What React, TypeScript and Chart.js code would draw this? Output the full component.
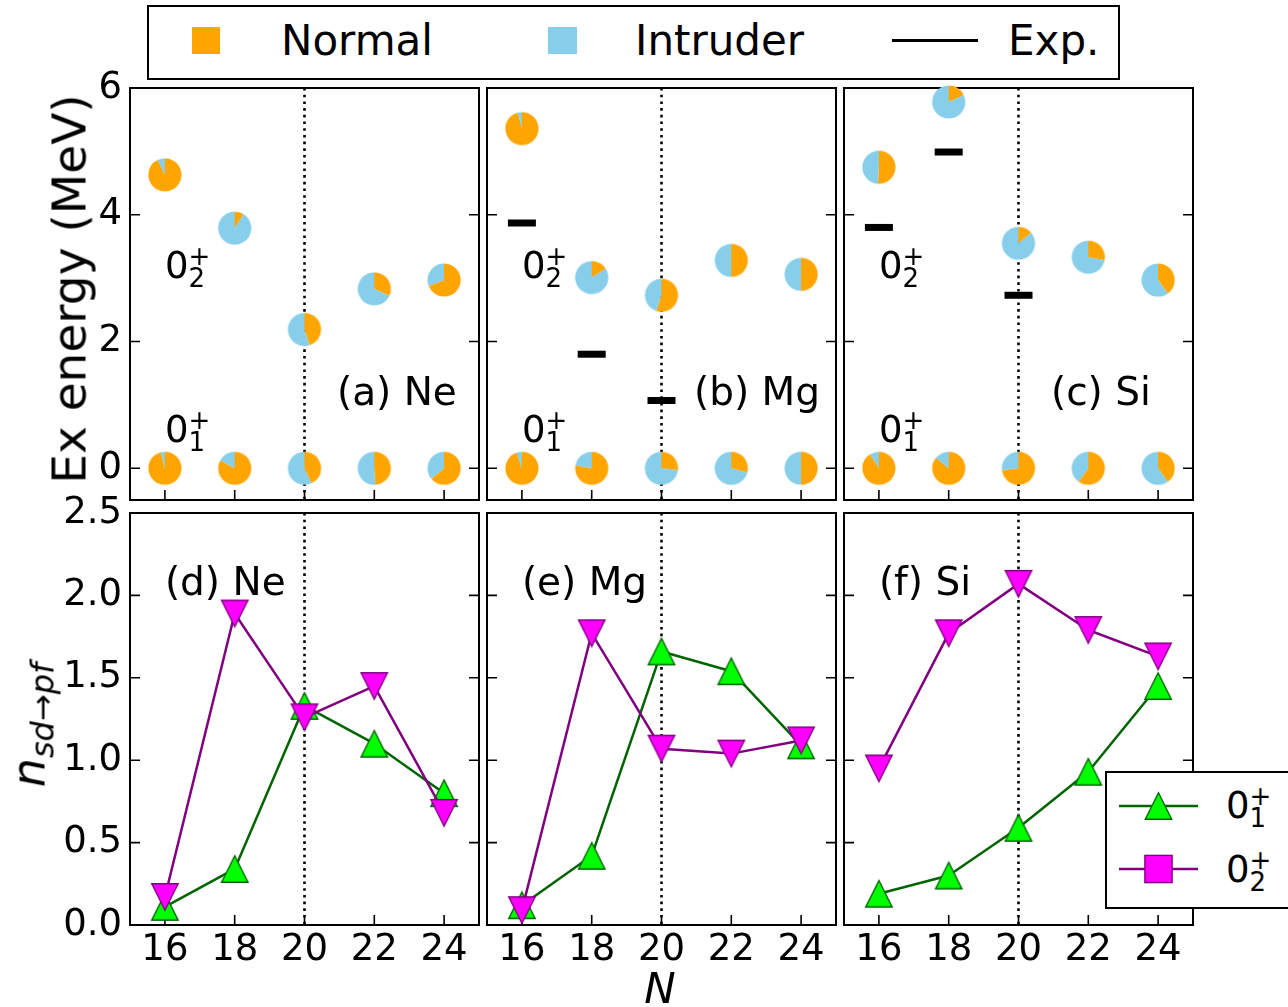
import React, { useEffect, useRef } from 'react';
import { Chart, registerables } from 'chart.js';

Chart.register(...registerables);

const FONT = '"DejaVu Sans"';
const ORANGE = '#ffa500';
const SKY = '#87ceeb';
const GREEN_LINE = '#006400';
const GREEN_FACE = '#00ff00';
const PURPLE_LINE = '#800080';
const MAGENTA_FACE = '#ff00ff';

// Neutron numbers and axis ticks
const neutronN = [16, 18, 20, 22, 24];
const nTicks = [16, 18, 20, 22, 24];
const exTicks = [0, 2, 4, 6];
const occTicks = [0, 0.5, 1, 1.5, 2, 2.5];

// Excitation energies of the 0+_2 states (MeV); 0+_1 is the ground state
const neEx02 = [4.63, 3.79, 2.19, 2.83, 2.97];
const mgEx02 = [5.36, 3.01, 2.73, 3.28, 3.06];
const siEx02 = [4.75, 5.78, 3.55, 3.33, 2.97];
const groundEx = [0, 0, 0, 0, 0];

// Fraction of the normal configuration (the rest is intruder)
const neNormal01 = [0.96, 0.83, 0.43, 0.49, 0.64];
const neNormal02 = [0.93, 0.09, 0.45, 0.32, 0.69];
const mgNormal01 = [0.95, 0.78, 0.27, 0.29, 0.5];
const mgNormal02 = [0.96, 0.16, 0.55, 0.5, 0.5];
const siNormal01 = [0.91, 0.86, 0.73, 0.6, 0.4];
const siNormal02 = [0.51, 0.18, 0.14, 0.28, 0.4];

// Experimental 0+_2 energies (MeV)
const mgExpN = [16, 18, 20];
const mgExpEx = [3.87, 1.8, 1.07];
const siExpN = [16, 18, 20];
const siExpEx = [3.8, 4.99, 2.73];

// Number of nucleons excited from sd to pf shell
const neOcc01 = [0.11, 0.34, 1.33, 1.1, 0.8];
const neOcc02 = [0.17, 1.89, 1.26, 1.45, 0.68];
const mgOcc01 = [0.12, 0.42, 1.66, 1.54, 1.09];
const mgOcc02 = [0.09, 1.77, 1.07, 1.04, 1.12];
const siOcc01 = [0.19, 0.3, 0.59, 0.93, 1.45];
const siOcc02 = [0.95, 1.77, 2.07, 1.79, 1.63];

// Figure geometry
const COL_LEFT = [130, 487, 844];
const ROW_TOP = [88, 513];
const PANEL_W = 349;
const PANEL_H = 412;

type EnergyCfg = {
  kind: 'energy';
  col: number;
  tag: string;
  ex02: number[];
  normal01: number[];
  normal02: number[];
  expN: number[];
  expEx: number[];
};
type OccCfg = {
  kind: 'occ';
  col: number;
  tag: string;
  occ01: number[];
  occ02: number[];
};
type PanelCfg = EnergyCfg | OccCfg;

const panels: PanelCfg[] = [
  { kind: 'energy', col: 0, tag: '(a) Ne', ex02: neEx02, normal01: neNormal01, normal02: neNormal02, expN: [], expEx: [] },
  { kind: 'energy', col: 1, tag: '(b) Mg', ex02: mgEx02, normal01: mgNormal01, normal02: mgNormal02, expN: mgExpN, expEx: mgExpEx },
  { kind: 'energy', col: 2, tag: '(c) Si', ex02: siEx02, normal01: siNormal01, normal02: siNormal02, expN: siExpN, expEx: siExpEx },
  { kind: 'occ', col: 0, tag: '(d) Ne', occ01: neOcc01, occ02: neOcc02 },
  { kind: 'occ', col: 1, tag: '(e) Mg', occ01: mgOcc01, occ02: mgOcc02 },
  { kind: 'occ', col: 2, tag: '(f) Si', occ01: siOcc01, occ02: siOcc02 },
];

function pieImage(frac: number): HTMLCanvasElement {
  const c = document.createElement('canvas');
  c.width = 36;
  c.height = 36;
  const g = c.getContext('2d')!;
  const r = 16.6;
  const start = -Math.PI / 2;
  const mid = start + frac * 2 * Math.PI;
  g.fillStyle = ORANGE;
  g.beginPath();
  g.moveTo(18, 18);
  g.arc(18, 18, r, start, mid);
  g.closePath();
  g.fill();
  g.fillStyle = SKY;
  g.beginPath();
  g.moveTo(18, 18);
  g.arc(18, 18, r, mid, start + 2 * Math.PI);
  g.closePath();
  g.fill();
  return c;
}

function markerImage(down: boolean, face: string, edge: string): HTMLCanvasElement {
  const c = document.createElement('canvas');
  c.width = 32;
  c.height = 32;
  const g = c.getContext('2d')!;
  const m = 16;
  const h = 13.2;
  g.beginPath();
  if (down) {
    g.moveTo(m, m + h);
    g.lineTo(m - h, m - h);
    g.lineTo(m + h, m - h);
  } else {
    g.moveTo(m, m - h);
    g.lineTo(m + h, m + h);
    g.lineTo(m - h, m + h);
  }
  g.closePath();
  g.fillStyle = face;
  g.fill();
  g.lineWidth = 1.4;
  g.strokeStyle = edge;
  g.stroke();
  return c;
}

function drawState(ctx: CanvasRenderingContext2D, x: number, y: number, sub: string) {
  ctx.font = `37px ${FONT}`;
  ctx.fillText('0', x, y);
  ctx.font = `26px ${FONT}`;
  ctx.fillText('+', x + 23.5, y - 13);
  ctx.fillText(sub, x + 23.5, y + 9);
}

function geometry(cfg: PanelCfg) {
  const row = cfg.kind === 'energy' ? 0 : 1;
  const padL = cfg.col === 0 ? 80 : 10;
  const padR = 10;
  const padT = row === 0 ? 30 : 25;
  const padB = row === 0 ? 25 : 60;
  return {
    row,
    padL,
    padR,
    padT,
    padB,
    left: COL_LEFT[cfg.col] - padL,
    top: ROW_TOP[row] - padT,
    width: padL + PANEL_W + padR,
    height: padT + PANEL_H + padB,
  };
}

function buildConfig(cfg: PanelCfg): any {
  const geo = geometry(cfg);
  const yTicks = cfg.kind === 'energy' ? exTicks : occTicks;
  const tickFont = { family: 'DejaVu Sans', size: 37 };
  const showX = geo.row === 1;
  const showY = cfg.col === 0;

  const decor = {
    id: 'panelDecor',
    beforeDatasetsDraw(chart: any) {
      const { ctx, chartArea: a } = chart;
      const xs = chart.scales.x;
      const ys = chart.scales.y;
      ctx.save();
      // dotted guide at N = 20
      const gx = xs.getPixelForValue(20);
      ctx.strokeStyle = '#000';
      ctx.lineWidth = 2.6;
      ctx.setLineDash([2.6, 4.1]);
      ctx.beginPath();
      ctx.moveTo(gx, a.top);
      ctx.lineTo(gx, a.bottom);
      ctx.stroke();
      ctx.setLineDash([]);
      // inward ticks
      ctx.lineWidth = 1.6;
      ctx.beginPath();
      for (const v of yTicks) {
        const py = ys.getPixelForValue(v);
        ctx.moveTo(a.left, py);
        ctx.lineTo(a.left + 10, py);
        ctx.moveTo(a.right, py);
        ctx.lineTo(a.right - 10, py);
      }
      for (const v of nTicks) {
        const px = xs.getPixelForValue(v);
        ctx.moveTo(px, a.bottom);
        ctx.lineTo(px, a.bottom - 10);
      }
      ctx.stroke();
      // frame
      ctx.lineWidth = 2;
      ctx.strokeRect(a.left, a.top, a.right - a.left, a.bottom - a.top);
      // annotations
      ctx.fillStyle = '#000';
      ctx.textAlign = 'left';
      ctx.textBaseline = 'alphabetic';
      if (cfg.kind === 'energy') {
        drawState(ctx, xs.getPixelForValue(16), ys.getPixelForValue(3.0), '2');
        drawState(ctx, xs.getPixelForValue(16), ys.getPixelForValue(0.42), '1');
        ctx.font = `39px ${FONT}`;
        ctx.fillText(cfg.tag, xs.getPixelForValue(20.93), ys.getPixelForValue(1.0));
      } else {
        ctx.font = `39px ${FONT}`;
        ctx.fillText(cfg.tag, xs.getPixelForValue(16), ys.getPixelForValue(2.0));
      }
      ctx.restore();
    },
  };

  let datasets: any[];
  if (cfg.kind === 'energy') {
    datasets = [
      {
        label: 'Exp.',
        data: cfg.expN.map((n, i) => ({ x: n, y: cfg.expEx[i] })),
        pointStyle: 'line',
        pointRadius: 14,
        pointBorderWidth: 7,
        pointBorderColor: '#000',
        pointBackgroundColor: '#000',
        showLine: false,
        clip: false,
      },
      {
        label: '0+1',
        data: neutronN.map((n, i) => ({ x: n, y: groundEx[i] })),
        pointStyle: cfg.normal01.map(pieImage),
        pointRadius: 16,
        showLine: false,
        clip: false,
      },
      {
        label: '0+2',
        data: neutronN.map((n, i) => ({ x: n, y: cfg.ex02[i] })),
        pointStyle: cfg.normal02.map(pieImage),
        pointRadius: 16,
        showLine: false,
        clip: false,
      },
    ];
  } else {
    datasets = [
      {
        label: '0+1',
        data: neutronN.map((n, i) => ({ x: n, y: cfg.occ01[i] })),
        showLine: true,
        borderColor: GREEN_LINE,
        borderWidth: 2.5,
        borderJoinStyle: 'round',
        pointStyle: markerImage(false, GREEN_FACE, GREEN_LINE),
        pointRadius: 14,
        order: 1,
        clip: false,
      },
      {
        label: '0+2',
        data: neutronN.map((n, i) => ({ x: n, y: cfg.occ02[i] })),
        showLine: true,
        borderColor: PURPLE_LINE,
        borderWidth: 2.5,
        borderJoinStyle: 'round',
        pointStyle: markerImage(true, MAGENTA_FACE, PURPLE_LINE),
        pointRadius: 14,
        order: 0,
        clip: false,
      },
    ];
  }

  return {
    type: 'scatter',
    data: { datasets },
    plugins: [decor],
    options: {
      animation: false,
      responsive: false,
      events: [],
      devicePixelRatio: 1,
      layout: {
        autoPadding: false,
        padding: {
          left: showY ? 0 : geo.padL,
          right: geo.padR,
          top: geo.padT,
          bottom: showX ? 0 : geo.padB,
        },
      },
      plugins: { legend: { display: false }, tooltip: { enabled: false } },
      scales: {
        x: {
          type: 'linear',
          min: 15,
          max: 25,
          display: showX,
          grid: { display: false, drawTicks: false },
          border: { display: false },
          afterBuildTicks: (s: any) => {
            s.ticks = nTicks.map((v) => ({ value: v }));
          },
          afterFit: (s: any) => {
            s.height = showX ? geo.padB : 0;
            s.paddingLeft = 0;
            s.paddingRight = 0;
          },
          ticks: {
            font: tickFont,
            color: '#000',
            padding: 3,
            maxRotation: 0,
            autoSkip: false,
            callback: (v: number) => String(v),
          },
        },
        y: {
          type: 'linear',
          min: cfg.kind === 'energy' ? -0.5 : 0,
          max: cfg.kind === 'energy' ? 6 : 2.5,
          display: showY,
          grid: { display: false, drawTicks: false },
          border: { display: false },
          afterBuildTicks: (s: any) => {
            s.ticks = yTicks.map((v) => ({ value: v }));
          },
          afterFit: (s: any) => {
            s.width = showY ? geo.padL : 0;
            s.paddingTop = 0;
            s.paddingBottom = 0;
          },
          ticks: {
            font: tickFont,
            color: '#000',
            padding: 8,
            autoSkip: false,
            callback: (v: number) => (cfg.kind === 'energy' ? String(v) : v.toFixed(1)),
          },
        },
      },
    },
  };
}

function Panel({ cfg }: { cfg: PanelCfg }) {
  const ref = useRef<HTMLCanvasElement>(null);
  const geo = geometry(cfg);
  useEffect(() => {
    const chart = new Chart(ref.current!, buildConfig(cfg));
    return () => chart.destroy();
  }, []);
  return (
    <canvas
      ref={ref}
      width={geo.width}
      height={geo.height}
      style={{ position: 'absolute', left: geo.left, top: geo.top, width: geo.width, height: geo.height }}
    />
  );
}

// Places text so that its alphabetic baseline sits at `base`
function Txt({ x, base, size, italic, children }: { x: number; base: number; size: number; italic?: boolean; children: React.ReactNode }) {
  return (
    <span
      style={{
        position: 'absolute',
        left: x,
        top: base - 0.846 * size,
        fontSize: size,
        lineHeight: `${size}px`,
        fontFamily: FONT,
        fontStyle: italic ? 'italic' : 'normal',
        whiteSpace: 'nowrap',
        color: '#000',
      }}
    >
      {children}
    </span>
  );
}

function StateText({ x, base, sub }: { x: number; base: number; sub: string }) {
  return (
    <>
      <Txt x={x} base={base} size={37}>0</Txt>
      <Txt x={x + 23.5} base={base - 13} size={26}>+</Txt>
      <Txt x={x + 23.5} base={base + 9} size={26}>{sub}</Txt>
    </>
  );
}

function triPoints(cx: number, cy: number, h: number) {
  return `${cx},${cy - h} ${cx + h},${cy + h} ${cx - h},${cy + h}`;
}

export default function App() {
  return (
    <div
      style={{
        position: 'absolute',
        left: 0,
        top: 0,
        width: 1288,
        height: 1007,
        overflow: 'hidden',
        background: '#fff',
        fontFamily: FONT,
      }}
    >
      {panels.map((p, i) => (
        <Panel key={i} cfg={p} />
      ))}

      {/* figure legend */}
      <div
        style={{
          position: 'absolute',
          left: 147,
          top: 5,
          width: 973,
          height: 75,
          border: '2px solid #000',
          boxSizing: 'border-box',
          background: '#fff',
        }}
      />
      <div style={{ position: 'absolute', left: 192, top: 27, width: 28, height: 27, background: ORANGE }} />
      <Txt x={281} base={56} size={42}>Normal</Txt>
      <div style={{ position: 'absolute', left: 548, top: 27, width: 29, height: 27, background: SKY }} />
      <Txt x={635} base={56} size={42}>Intruder</Txt>
      <div style={{ position: 'absolute', left: 892, top: 39, width: 86, height: 3, background: '#000' }} />
      <Txt x={1008} base={56} size={42}>Exp.</Txt>

      {/* axis titles */}
      <div
        style={{
          position: 'absolute',
          left: 69,
          top: 289,
          transform: 'translate(-50%, -50%) rotate(-90deg)',
          fontSize: 47,
          lineHeight: '47px',
          fontFamily: FONT,
          whiteSpace: 'nowrap',
        }}
      >
        Ex energy (MeV)
      </div>
      <div
        style={{
          position: 'absolute',
          left: 31,
          top: 725,
          transform: 'translate(-50%, -50%) rotate(-90deg)',
          fontSize: 46,
          lineHeight: '46px',
          fontFamily: FONT,
          whiteSpace: 'nowrap',
        }}
      >
        <span style={{ fontStyle: 'italic' }}>n</span>
        <span style={{ fontSize: 32, position: 'relative', top: 9 }}>
          <span style={{ fontStyle: 'italic' }}>sd</span>→<span style={{ fontStyle: 'italic' }}>pf</span>
        </span>
      </div>
      <div
        style={{
          position: 'absolute',
          left: 560,
          width: 200,
          top: 1004 - 0.846 * 42,
          textAlign: 'center',
          fontSize: 42,
          lineHeight: '42px',
          fontFamily: FONT,
          fontStyle: 'italic',
        }}
      >
        N
      </div>

      {/* legend of the lower row */}
      <div
        style={{
          position: 'absolute',
          left: 1105,
          top: 771,
          width: 200,
          height: 138,
          border: '2px solid #000',
          boxSizing: 'border-box',
          background: '#fff',
        }}
      />
      <svg style={{ position: 'absolute', left: 1105, top: 771 }} width={120} height={138}>
        <line x1={14} y1={35} x2={93} y2={35} stroke={GREEN_LINE} strokeWidth={2.5} />
        <polygon points={triPoints(53.5, 35, 13.2)} fill={GREEN_FACE} stroke={GREEN_LINE} strokeWidth={1.4} />
        <line x1={14} y1={98} x2={93} y2={98} stroke={PURPLE_LINE} strokeWidth={2.5} />
        <rect x={53.5 - 13.6} y={98 - 13.6} width={27.2} height={27.2} fill={MAGENTA_FACE} stroke={PURPLE_LINE} strokeWidth={1.4} />
      </svg>
      <StateText x={1226} base={818} sub="1" />
      <StateText x={1226} base={882} sub="2" />
    </div>
  );
}
